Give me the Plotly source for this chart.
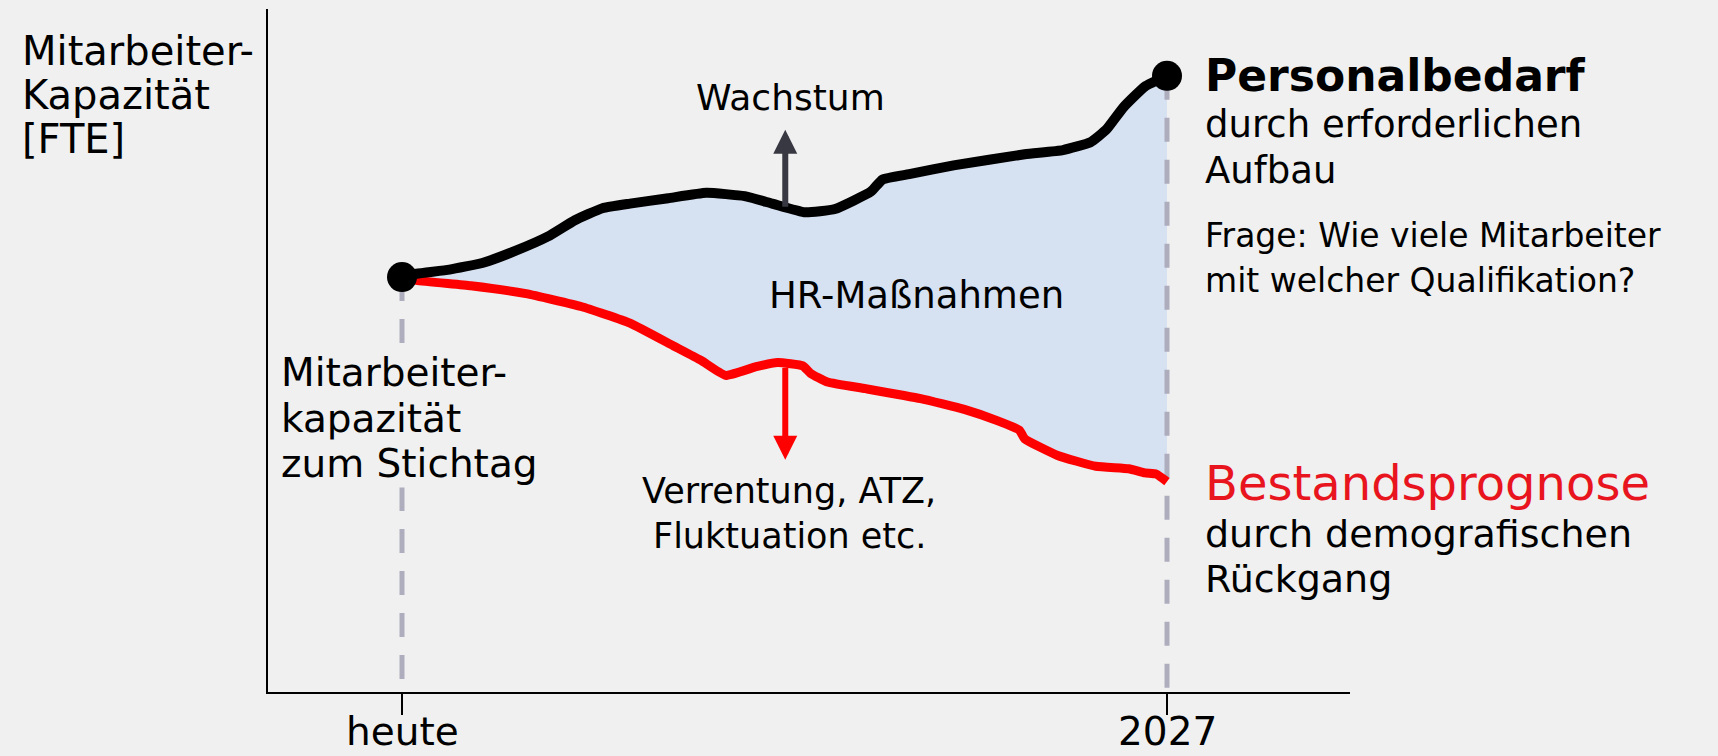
import plotly.graph_objects as go

# ---- data (t: 0 = heute, 1 = 2027; capacity index, 100 = today) ----
demand_t = [0.0, 0.019, 0.062, 0.105, 0.148, 0.191, 0.226, 0.262, 0.298, 0.348, 0.398,
            0.448, 0.484, 0.527, 0.566, 0.613, 0.628, 0.663, 0.721, 0.814, 0.864, 0.900,
            0.921, 0.943, 0.971, 1.0]
demand_v = [100.0, 100.8, 101.8, 103.4, 106.3, 109.8, 113.7, 116.6, 117.7, 119.0, 120.3,
            119.5, 117.7, 115.6, 116.4, 120.6, 123.5, 124.8, 126.9, 129.6, 130.6, 132.5,
            135.6, 140.9, 145.9, 148.5]

supply_t = [0.0, 0.019, 0.090, 0.162, 0.234, 0.298, 0.355, 0.391, 0.423, 0.463, 0.491,
            0.524, 0.534, 0.556, 0.606, 0.678, 0.735, 0.778, 0.807, 0.814, 0.857, 0.907,
            0.950, 0.971, 0.986, 1.0]
supply_v = [100.0, 99.2, 97.9, 96.0, 92.9, 88.9, 83.4, 79.9, 76.3, 78.4, 79.4,
            78.6, 76.8, 74.7, 73.1, 70.7, 68.1, 65.4, 63.1, 61.0, 57.0, 54.4,
            53.8, 52.8, 52.5, 50.7]

tick_vals = [0, 1]
tick_text = ["heute", "2027"]

# arrows: (t, tail value, head value)
growth_arrow = (0.501, 116.6, 135.5)
loss_arrow = (0.501, 78.5, 56.0)

X_RANGE = [-0.17516, 1.23921]
Y_RANGE = [0, 164.6]

BG = "#F0F0F0"
FILL = "#D6E1F2"
FONT = "DejaVu Sans"

fig = go.Figure()

# filled area between the two curves
fig.add_trace(go.Scatter(
    x=demand_t + supply_t[::-1], y=demand_v + supply_v[::-1],
    fill="toself", fillcolor=FILL, line=dict(width=0), mode="lines",
    hoverinfo="skip", showlegend=False))

# dashed reference lines at heute and 2027
fig.add_trace(go.Scatter(x=[tick_vals[0], tick_vals[0]], y=[demand_v[0], 0], mode="lines",
                         line=dict(color="#ADADBE", width=5, dash="24px,18px"),
                         showlegend=False, hoverinfo="skip"))
fig.add_trace(go.Scatter(x=[tick_vals[1], tick_vals[1]], y=[demand_v[-1], 0], mode="lines",
                         line=dict(color="#ADADBE", width=5, dash="24px,18px"),
                         showlegend=False, hoverinfo="skip"))

# Bestandsprognose (red)
fig.add_trace(go.Scatter(x=supply_t, y=supply_v, mode="lines",
                         line=dict(color="#FF0000", width=9, shape="spline", smoothing=0.4),
                         showlegend=False))
# Personalbedarf (black)
fig.add_trace(go.Scatter(x=demand_t, y=demand_v, mode="lines",
                         line=dict(color="#000000", width=10, shape="spline", smoothing=0.4),
                         showlegend=False))
# end points
fig.add_trace(go.Scatter(x=[demand_t[0], demand_t[-1]], y=[demand_v[0], demand_v[-1]],
                         mode="markers", marker=dict(color="#000000", size=30),
                         showlegend=False))

W, H = 1718, 756
ML, MR, MT, MB = 268, 368, 9, 64
PW, PH = W - ML - MR, H - MT - MB


def px(xp):
    return (xp - ML) / PW


def py(yp):
    return (H - MB - yp) / PH


texts = [
    # text, x px, baseline px, size, color, bold, anchor
    ("Mitarbeiter-", 20, 65, 40, "#000000", False, "left"),
    ("Kapazität", 20, 109, 40, "#000000", False, "left"),
    ("[FTE]", 20, 153, 40, "#000000", False, "left"),
    ("Wachstum", 790, 110, 36, "#000000", False, "center"),
    ("HR-Maßnahmen", 916, 308, 37, "#000000", False, "center"),
    ("Verrentung, ATZ,", 789, 503, 35, "#000000", False, "center"),
    ("Fluktuation etc.", 789, 548, 35, "#000000", False, "center"),
    ("Personalbedarf", 1203, 91, 44, "#000000", True, "left"),
    ("durch erforderlichen", 1203, 137, 37, "#000000", False, "left"),
    ("Aufbau", 1203, 183, 37, "#000000", False, "left"),
    ("Frage: Wie viele Mitarbeiter", 1203, 247, 33, "#000000", False, "left"),
    ("mit welcher Qualifikation?", 1203, 292, 33, "#000000", False, "left"),
    ("Bestandsprognose", 1203, 500, 48, "#E8141E", False, "left"),
    ("durch demografischen", 1203, 547, 38, "#000000", False, "left"),
    ("Rückgang", 1203, 592, 38, "#000000", False, "left"),
]

annotations = []
for txt, xp, base, size, col, bold, anc in texts:
    annotations.append(dict(
        text=f"<b>{txt}</b>" if bold else txt,
        xref="paper", yref="paper", x=px(xp), y=py(base - 0.35 * size),
        xanchor=anc, yanchor="middle", showarrow=False,
        font=dict(family=FONT, size=size, color=col)))

# label over the left dashed line (background hides the dashes)
for txt, base in [("Mitarbeiter-", 386), ("kapazität", 432), ("zum Stichtag", 477)]:
    annotations.append(dict(
        text=txt, xref="paper", yref="paper", x=px(279), y=py(base - 0.35 * 39),
        xanchor="left", yanchor="middle", showarrow=False, bgcolor=BG,
        font=dict(family=FONT, size=39, color="#000000")))

# x tick labels (placed as text under the ticks)
for tv, tt in zip(tick_vals, tick_text):
    annotations.append(dict(
        text=tt, xref="x", yref="paper", x=tv, y=py(745 - 0.35 * 39),
        xanchor="center", yanchor="middle", showarrow=False,
        font=dict(family=FONT, size=39, color="#000000")))

# arrows
annotations.append(dict(
    x=growth_arrow[0], y=growth_arrow[2], ax=growth_arrow[0], ay=growth_arrow[1],
    xref="x", yref="y", axref="x", ayref="y", text="", showarrow=True,
    arrowhead=2, arrowsize=0.8, arrowwidth=6, arrowcolor="#383842"))
annotations.append(dict(
    x=loss_arrow[0], y=loss_arrow[2], ax=loss_arrow[0], ay=loss_arrow[1],
    xref="x", yref="y", axref="x", ayref="y", text="", showarrow=True,
    arrowhead=2, arrowsize=0.8, arrowwidth=6, arrowcolor="#FF0000"))

fig.update_layout(
    width=W, height=H,
    margin=dict(l=ML, r=MR, t=MT, b=MB, pad=0, autoexpand=False),
    paper_bgcolor=BG, plot_bgcolor=BG,
    showlegend=False,
    annotations=annotations,
    xaxis=dict(range=X_RANGE, showgrid=False, zeroline=False, showline=True,
               linecolor="#000000", linewidth=2, ticks="outside", ticklen=21,
               tickwidth=2, tickcolor="#000000", tickvals=tick_vals,
               showticklabels=False, automargin=False, fixedrange=True),
    yaxis=dict(range=Y_RANGE, showgrid=False, zeroline=False, showline=True,
               linecolor="#000000", linewidth=2, showticklabels=False, ticks="",
               automargin=False, fixedrange=True),
)

fig.write_html(
    "out.html",
    config={"displayModeBar": False},
    post_script="document.body.style.margin='0';document.body.style.overflow='hidden';"
                "document.body.style.background='#F0F0F0';",
)
